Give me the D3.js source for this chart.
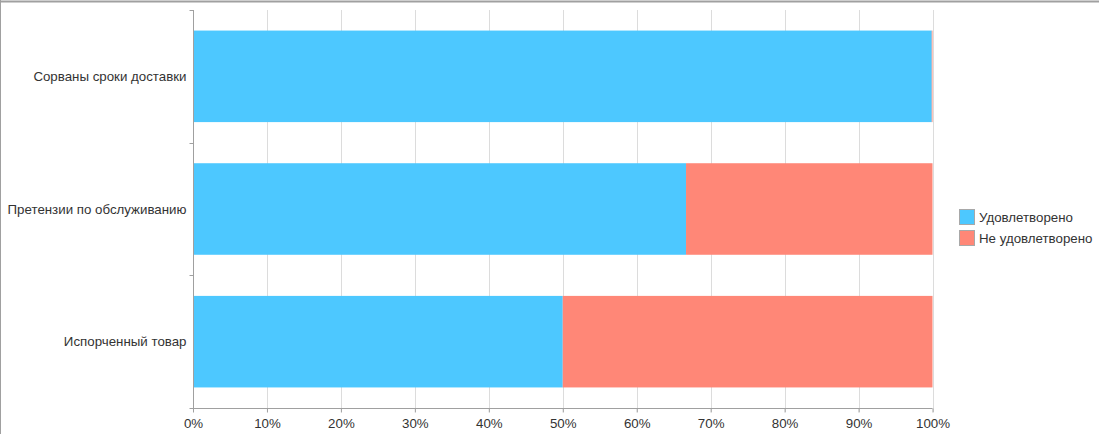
<!DOCTYPE html>
<html><head><meta charset="utf-8">
<script src="https://cdn.jsdelivr.net/npm/d3@7"></script>
<style>body{margin:0;background:#fff}svg{display:block;font-family:"Liberation Sans",Arial,sans-serif}</style>
</head><body>
<script>
const categories = ["Сорваны сроки доставки", "Претензии по обслуживанию", "Испорченный товар"];
const seriesNames = ["Удовлетворено", "Не удовлетворено"];
const satisfied = [99.9, 66.67, 50];
const notSatisfied = [0.1, 33.33, 50];
const tickValues = [0,10,20,30,40,50,60,70,80,90,100];
const colors = ["#4dc8ff", "#ff8777"];

const W = 1099, H = 434, FS = 13.3;
const svg = d3.select("body").append("svg").attr("width", W).attr("height", H);
// frame
svg.append("line").attr("x1",0).attr("x2",W).attr("y1",1.5).attr("y2",1.5).attr("stroke","#a0a0a0").attr("stroke-width",2);
svg.append("line").attr("x1",0.5).attr("x2",0.5).attr("y1",0).attr("y2",H).attr("stroke","#a0a0a0");

const pLeft = 193, pRight = 932.5, pTop = 10, pBottom = 408;
const x = d3.scaleLinear().domain([0,100]).range([pLeft, pRight]);
const y = d3.scaleBand().domain(categories).range([pTop, pBottom]).paddingInner(0.31).paddingOuter(0.155);
const yb = d3.scaleBand().domain(categories).range([pTop, pBottom]);

// grid
svg.append("g").selectAll("line").data(tickValues.slice(1)).join("line")
  .attr("x1", d => Math.round(x(d))+0.5).attr("x2", d => Math.round(x(d))+0.5)
  .attr("y1", pTop).attr("y2", pBottom+4).attr("stroke", "#dcdcdc");

const data = categories.map((c,i)=>({c, vals:[satisfied[i], notSatisfied[i]]}));
const stack = d3.stack().keys([0,1]).value((d,k)=>d.vals[k]);
const series = stack(data);
svg.append("g").selectAll("g").data(series).join("g").attr("fill", (d,i)=>colors[i])
  .selectAll("rect").data(d=>d).join("rect")
  .attr("x", d=>x(d[0])).attr("width", d=>x(d[1])-x(d[0]))
  .attr("y", d=>y(d.data.c)).attr("height", y.bandwidth());

// x axis
const xAxis = svg.append("g").attr("transform", `translate(0,${pBottom+0.5})`)
  .call(d3.axisBottom(x).tickValues(tickValues).tickFormat(d=>d+"%").tickSize(4).tickPadding(6));
xAxis.select(".domain").attr("stroke","#a0a0a0").attr("d", `M${pLeft-3},0H${pRight}`);
xAxis.selectAll(".tick line").attr("stroke","#a0a0a0");
xAxis.selectAll("text").attr("font-size",FS).attr("fill","#333").attr("font-family","Liberation Sans, Arial");

// y axis
const ya = svg.append("g").attr("transform", `translate(${pLeft+0.5},0)`);
ya.append("line").attr("y1",pTop).attr("y2",pBottom).attr("stroke","#a0a0a0");
const bounds = [pTop, ...categories.map(c=>yb(c)+yb.bandwidth())];
ya.selectAll("line.t").data(bounds).join("line").attr("class","t")
  .attr("x1",-4).attr("x2",0).attr("y1",d=>Math.round(d)+0.5).attr("y2",d=>Math.round(d)+0.5).attr("stroke","#a0a0a0");
ya.selectAll("text").data(categories).join("text")
  .attr("x",-7).attr("y",d=>yb(d)+yb.bandwidth()/2).attr("dy","0.35em")
  .attr("text-anchor","end").attr("font-size",FS).attr("fill","#333").text(d=>d);

// legend
const lg = svg.append("g").attr("transform","translate(959,209)");
const li = lg.selectAll("g").data(seriesNames).join("g").attr("transform",(d,i)=>`translate(0,${i*21})`);
li.append("rect").attr("x",0.5).attr("y",0.5).attr("width",15).attr("height",15)
  .attr("fill",(d,i)=>colors[i]).attr("stroke","#a8a8a8");
li.append("text").attr("x",20).attr("y",8).attr("dy","0.35em").attr("font-size",FS).attr("fill","#333").text(d=>d);
</script>
</body></html>
